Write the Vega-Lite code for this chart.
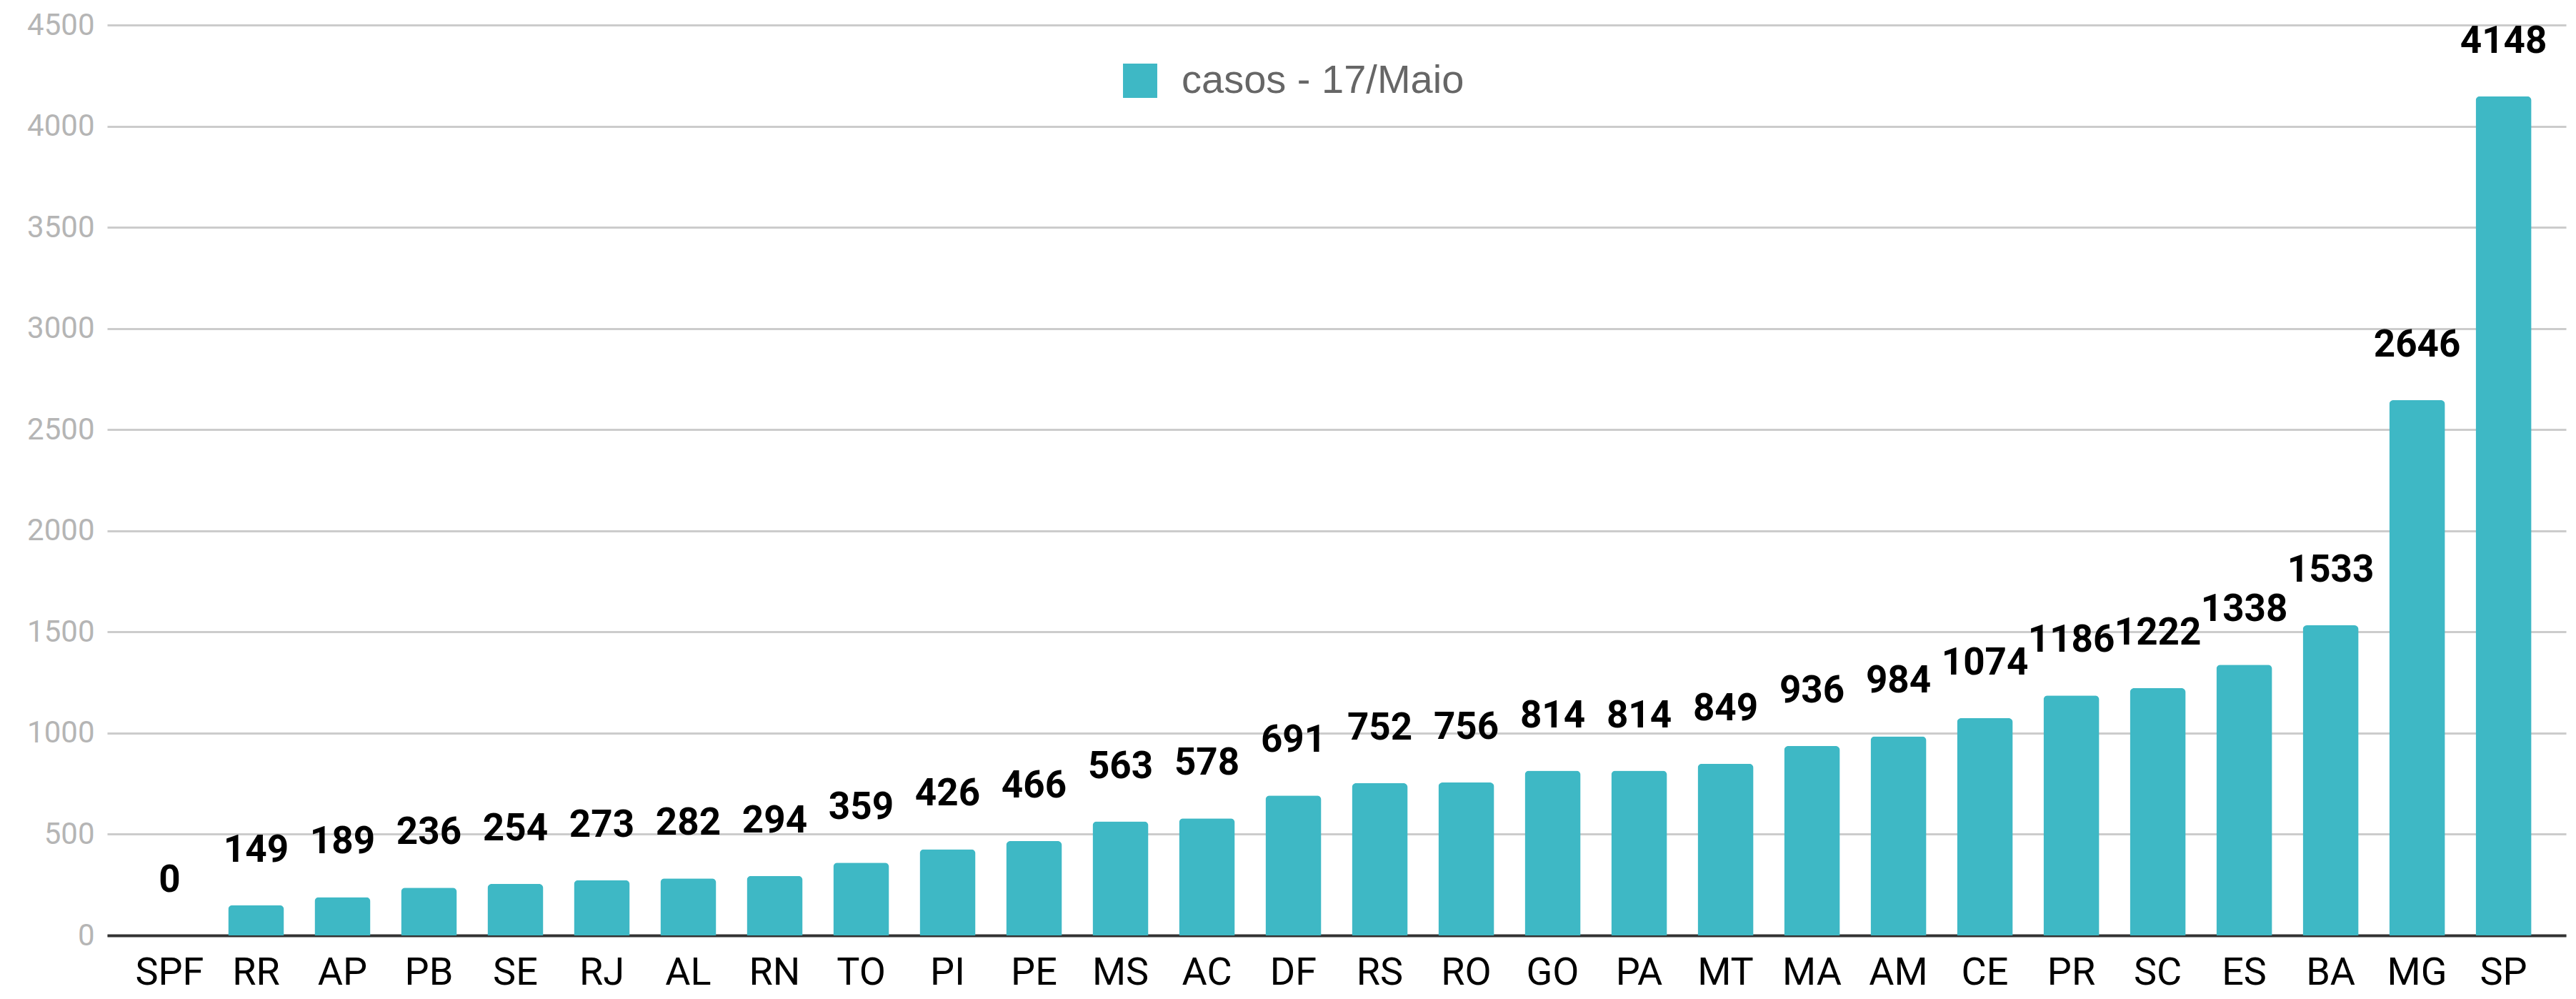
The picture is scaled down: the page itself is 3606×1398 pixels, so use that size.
{
  "$schema": "https://vega.github.io/schema/vega-lite/v6.json",
  "width": 3442,
  "height": 1274,
  "autosize": {"type": "none"},
  "padding": {"left": 150, "top": 35, "right": 14, "bottom": 89},
  "background": "white",
  "data": {
    "values": [
      {"uf": "SPF", "casos": 0},
      {"uf": "RR", "casos": 149},
      {"uf": "AP", "casos": 189},
      {"uf": "PB", "casos": 236},
      {"uf": "SE", "casos": 254},
      {"uf": "RJ", "casos": 273},
      {"uf": "AL", "casos": 282},
      {"uf": "RN", "casos": 294},
      {"uf": "TO", "casos": 359},
      {"uf": "PI", "casos": 426},
      {"uf": "PE", "casos": 466},
      {"uf": "MS", "casos": 563},
      {"uf": "AC", "casos": 578},
      {"uf": "DF", "casos": 691},
      {"uf": "RS", "casos": 752},
      {"uf": "RO", "casos": 756},
      {"uf": "GO", "casos": 814},
      {"uf": "PA", "casos": 814},
      {"uf": "MT", "casos": 849},
      {"uf": "MA", "casos": 936},
      {"uf": "AM", "casos": 984},
      {"uf": "CE", "casos": 1074},
      {"uf": "PR", "casos": 1186},
      {"uf": "SC", "casos": 1222},
      {"uf": "ES", "casos": 1338},
      {"uf": "BA", "casos": 1533},
      {"uf": "MG", "casos": 2646},
      {"uf": "SP", "casos": 4148}
    ]
  },
  "config": {
    "view": {"stroke": null},
    "font": "Roboto"
  },
  "encoding": {
    "x": {
      "field": "uf",
      "type": "nominal",
      "sort": null,
      "title": null,
      "scale": {"paddingInner": 0.355, "paddingOuter": 0.4},
      "axis": {
        "labelAngle": 0,
        "labelFont": "Roboto",
        "labelFontSize": 54,
        "labelColor": "#000000",
        "labelPadding": 25,
        "ticks": false,
        "domainColor": "#333333",
        "domainWidth": 4,
        "grid": false
      }
    },
    "y": {
      "field": "casos",
      "type": "quantitative",
      "title": null,
      "scale": {"domain": [0, 4500], "nice": false},
      "axis": {
        "values": [0, 500, 1000, 1500, 2000, 2500, 3000, 3500, 4000, 4500],
        "format": "d",
        "labelFont": "Roboto",
        "labelFontSize": 42,
        "labelColor": "#b5b5b5",
        "labelPadding": 18,
        "ticks": false,
        "domain": false,
        "gridColor": "#cccccc",
        "gridWidth": 3
      }
    }
  },
  "layer": [
    {
      "mark": {"type": "bar", "cornerRadiusTopLeft": 6, "cornerRadiusTopRight": 6},
      "encoding": {
        "color": {
          "datum": "casos - 17/Maio",
          "type": "nominal",
          "scale": {"range": ["#3eb8c5"]},
          "legend": {
            "title": null,
            "orient": "none",
            "legendX": 1418,
            "legendY": 50,
            "symbolType": "square",
            "symbolSize": 2300,
            "symbolStrokeWidth": 0,
            "labelFont": "Liberation Sans",
            "labelFontSize": 56,
            "labelColor": "#666666",
            "labelOffset": 30,
            "labelLimit": 900
          }
        }
      }
    },
    {
      "mark": {
        "type": "text",
        "baseline": "alphabetic",
        "dy": -61,
        "fontSize": 53,
        "fontWeight": "bold",
        "font": "Roboto",
        "color": "#000000"
      },
      "encoding": {
        "text": {"field": "casos", "type": "quantitative"}
      }
    }
  ]
}
